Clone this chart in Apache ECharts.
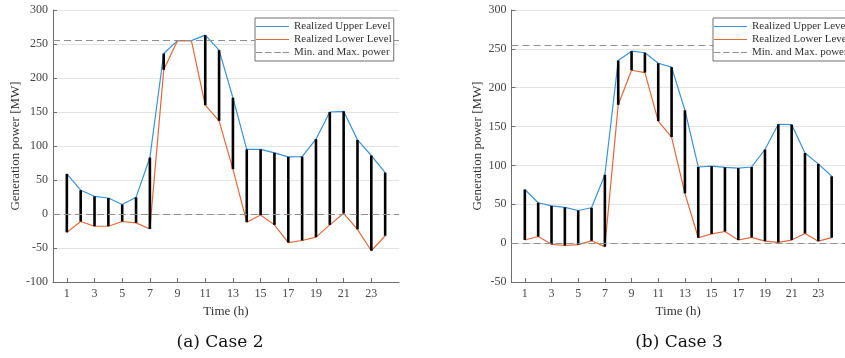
<!DOCTYPE html>
<html>
<head>
<meta charset="utf-8">
<script src="https://cdn.jsdelivr.net/npm/echarts@6/dist/echarts.min.js"></script>
<style>
html,body{margin:0;padding:0;background:#fff;}
#c{width:845px;height:358px;}
</style>
</head>
<body>
<div id="c"></div>
<script>
// ---- data ----
const hours = ['0','1','2','3','4','5','6','7','8','9','10','11','12','13','14','15','16','17','18','19','20','21','22','23','24','25'];
const dataHours = ['1','2','3','4','5','6','7','8','9','10','11','12','13','14','15','16','17','18','19','20','21','22','23','24'];
const upperA = [59,35,26,23.5,14,24.5,83,236,255,255,263,241,171,95,95,90,84,84.5,110,150,151,109,86,61];
const lowerA = [-27,-11,-18,-18,-11,-13,-22,212,255,255,160,137,66,-12,-1.5,-16,-42,-39,-34,-16,1,-22.5,-54,-32];
const upperB = [69,52,48,46,42,45.5,88,235,247,245,231.5,226.5,171,98,99,97.5,96.5,98,120.5,153,152.5,116,102,86];
const lowerB = [4,8.5,-1.5,-3,-2,3,-4.5,178,222.5,219.5,157,136.5,64,7,12,15,4,7.5,2.5,1,4,12.5,2.5,7];
const limits = [255, 0];
const oddTickLabels = ['1','3','5','7','9','11','13','15','17','19','21','23'];
const yRangeA = [-100, 300];
const yRangeB = [-50, 300];
const names = ['Realized Upper Level','Realized Lower Level','Min. and Max. power'];
const captions = ['(a) Case 2','(b) Case 3'];

const FONT = '"Liberation Serif", "Times New Roman", serif';
const CAPFONT = '"DejaVu Serif", serif';
const BLUE = '#3b93d6', ORANGE = '#e2683a', DASH = '#8f8f8f';
const SOLID_ICON = 'path://M0,0h36v1h-36z';
const DASH_ICON = 'path://M0,0h7v1h-7zM10,0h7v1h-7zM20,0h7v1h-7zM29,0h7v1h-7z';

function pairs(vals){ return vals.map((v,i)=>[dataHours[i], v]); }
function ranges(lo, up){ return lo.map((v,i)=>[dataHours[i], v, up[i]]); }

function xAxis(gi){
  return {
    type:'category', gridIndex:gi, data:hours, boundaryGap:false,
    name:'Time (h)', nameLocation:'middle', nameGap:23,
    nameTextStyle:{fontFamily:FONT, fontSize:13, color:'#333'},
    axisLine:{onZero:false, lineStyle:{color:'#6e6e6e', width:1}},
    axisTick:{inside:true, length:4, lineStyle:{color:'#6e6e6e'},
      interval:(i,v)=>oddTickLabels.indexOf(v)>=0},
    axisLabel:{fontFamily:FONT, fontSize:12, color:'#444', margin:6,
      interval:(i,v)=>oddTickLabels.indexOf(v)>=0},
    splitLine:{show:false}
  };
}
function yAxis(gi, range, gap){
  return {
    type:'value', gridIndex:gi, min:range[0], max:range[1], interval:50,
    name:'Generation power [MW]', nameLocation:'middle', nameGap:gap,
    nameTextStyle:{fontFamily:FONT, fontSize:13, color:'#333'},
    axisLine:{show:true, onZero:false, lineStyle:{color:'#6e6e6e', width:1}},
    axisTick:{show:true, inside:true, length:4, lineStyle:{color:'#6e6e6e'}},
    axisLabel:{fontFamily:FONT, fontSize:12, color:'#444', margin:5},
    splitLine:{show:true, lineStyle:{color:'#e4e4e4', width:1}}
  };
}
function seriesFor(gi, up, lo){
  return [
    {type:'line', name:names[2], xAxisIndex:gi, yAxisIndex:gi, data:[], symbol:'none',
      lineStyle:{color:DASH, width:1.2, type:[7,4]}, itemStyle:{color:DASH},
      markLine:{silent:true, symbol:'none', label:{show:false},
        lineStyle:{color:DASH, width:1.2, type:[7,4]},
        data:limits.map(v=>({yAxis:v}))}},
    {type:'custom', name:'range', xAxisIndex:gi, yAxisIndex:gi, data:ranges(lo, up),
      encode:{x:0, y:[1,2]}, z:3,
      renderItem:(params, api)=>{
        const a = api.coord([api.value(0), api.value(1)]);
        const b = api.coord([api.value(0), api.value(2)]);
        return {type:'line', shape:{x1:a[0], y1:a[1], x2:b[0], y2:b[1]},
          style:{stroke:'#000', lineWidth:2.6}};
      }},
    {type:'line', name:names[0], xAxisIndex:gi, yAxisIndex:gi, data:pairs(up), symbol:'none',
      lineStyle:{color:BLUE, width:1.2}, itemStyle:{color:BLUE}, z:2},
    {type:'line', name:names[1], xAxisIndex:gi, yAxisIndex:gi, data:pairs(lo), symbol:'none',
      lineStyle:{color:ORANGE, width:1.2}, itemStyle:{color:ORANGE}, z:2}
  ];
}
function legend(left){
  return {
    orient:'vertical', left:left, top:18, selectedMode:false, z:20,
    data:[
      {name:names[0], icon:SOLID_ICON, itemStyle:{color:BLUE}},
      {name:names[1], icon:SOLID_ICON, itemStyle:{color:ORANGE}},
      {name:names[2], icon:DASH_ICON, itemStyle:{color:DASH}}
    ],
    itemWidth:33, itemHeight:1.6, itemGap:2,
    padding:[3,2,3,1], borderColor:'#707070', borderWidth:1, backgroundColor:'#fff',
    textStyle:{fontFamily:FONT, fontSize:11, color:'#333', lineHeight:11}
  };
}

const chart = echarts.init(document.getElementById('c'), null, {renderer:'canvas'});
chart.setOption({
  animation:false,
  backgroundColor:'#fff',
  grid:[
    {left:53, top:10, width:346, height:272},
    {left:511.5, top:10, width:346, height:272}
  ],
  xAxis:[xAxis(0), xAxis(1)],
  yAxis:[yAxis(0, yRangeA, 29), yAxis(1, yRangeB, 27)],
  legend:[legend(255), legend(713)],
  series:[...seriesFor(0, upperA, lowerA), ...seriesFor(1, upperB, lowerB)],
  graphic:[
    {type:'text', x:220, y:343, style:{text:captions[0], font:'17px ' + CAPFONT, fill:'#111', align:'center', verticalAlign:'middle'}},
    {type:'text', x:679, y:343, style:{text:captions[1], font:'17px ' + CAPFONT, fill:'#111', align:'center', verticalAlign:'middle'}}
  ]
});
</script>
</body>
</html>
